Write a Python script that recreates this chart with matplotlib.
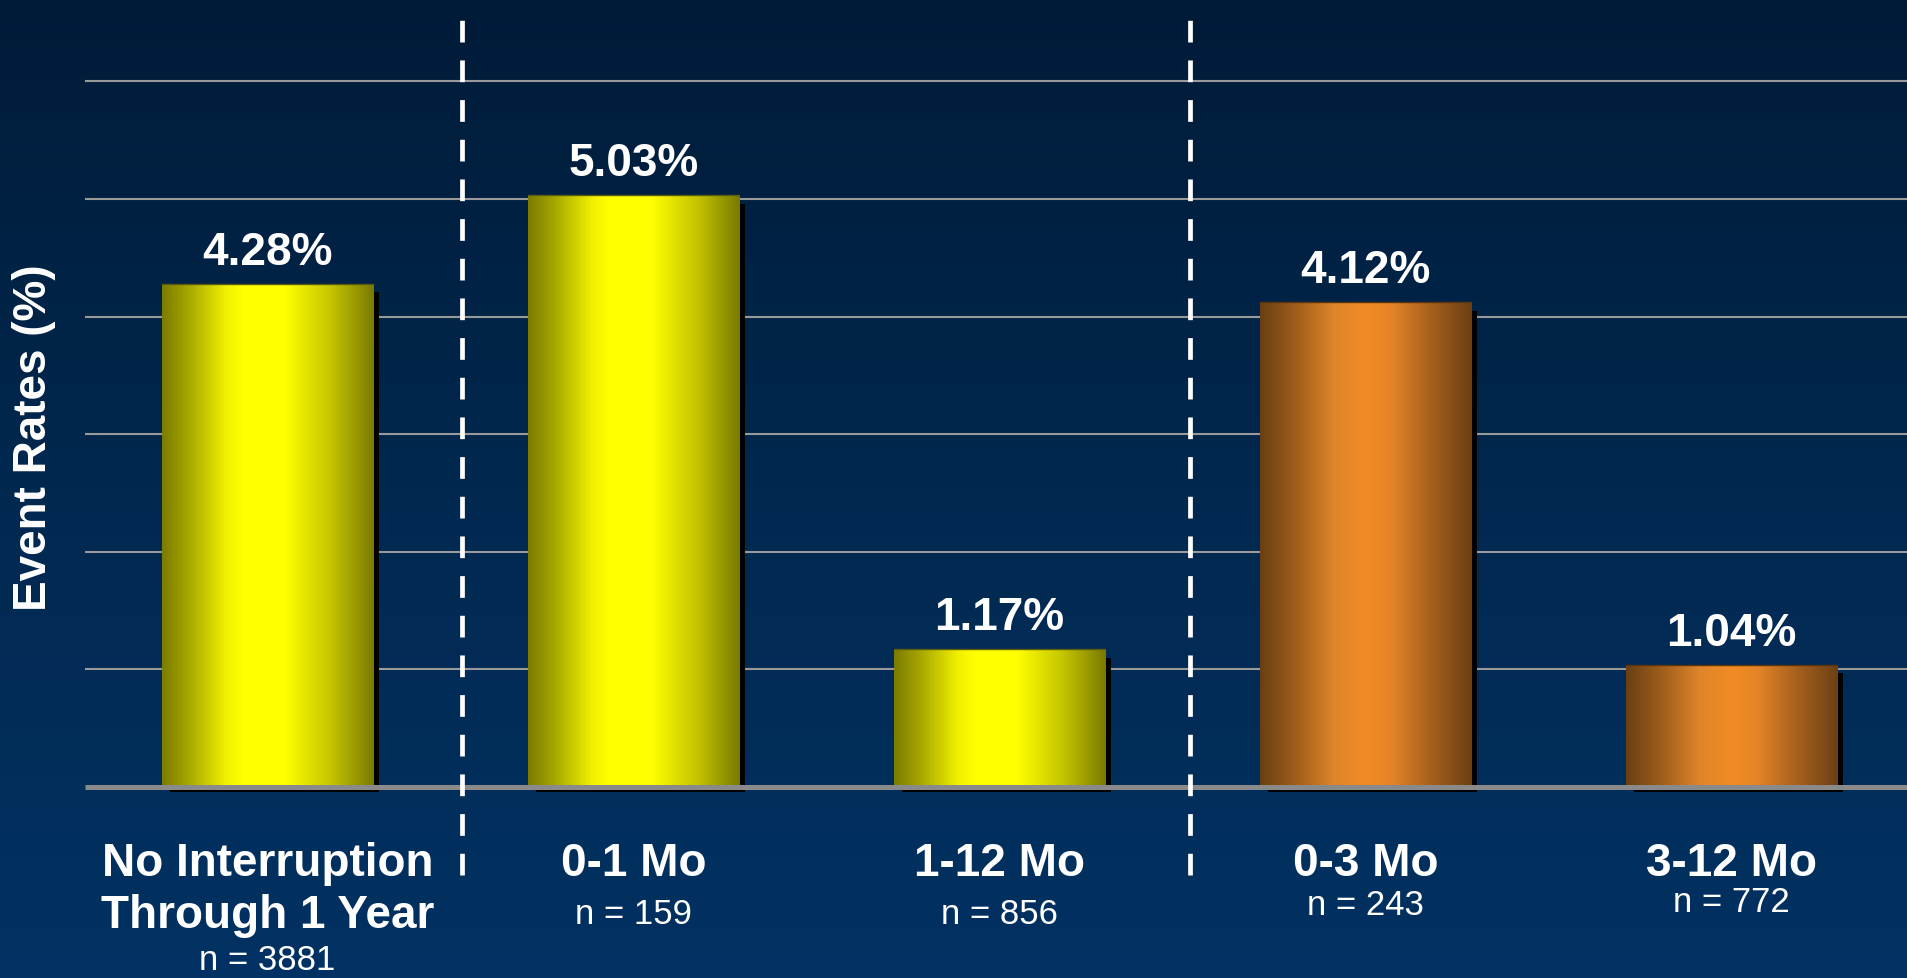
import numpy as np
import matplotlib
matplotlib.use("Agg")
import matplotlib.pyplot as plt
from matplotlib.colors import LinearSegmentedColormap

plt.rcParams['font.family'] = ['Liberation Sans', 'DejaVu Sans']

# data
labels = ["No Interruption\nThrough 1 Year", "0-1 Mo", "1-12 Mo", "0-3 Mo", "3-12 Mo"]
n_counts = [3881, 159, 856, 243, 772]
event_rates = [4.28, 5.03, 1.17, 4.12, 1.04]
bar_groups = ["yellow", "yellow", "yellow", "orange", "orange"]
yticks = [1, 2, 3, 4, 5, 6]

# gradients across each bar (left -> right)
yellow_cmap = LinearSegmentedColormap.from_list(
    "yel", [(0.0, "#7c7c00"), (0.12, "#a5a500"), (0.3, "#f0f000"), (0.38, "#ffff00"),
            (0.58, "#ffff00"), (0.8, "#c4c400"), (1.0, "#7a7a00")])
orange_cmap = LinearSegmentedColormap.from_list(
    "org", [(0.0, "#6a3f14"), (0.18, "#a3601c"), (0.35, "#e0852a"), (0.5, "#f28b25"),
            (0.62, "#e58427"), (0.82, "#a25e1d"), (1.0, "#6c4014")])
cmaps = {"yellow": yellow_cmap, "orange": orange_cmap}
# background: dark navy at top, lighter blue at bottom
bg_cmap = LinearSegmentedColormap.from_list("bg", ["#001b38", "#01284f", "#013263"])

fig = plt.figure(figsize=(19.07, 9.79), dpi=100)
ax = fig.add_axes([0, 0, 1, 1])
xlim = (-0.731, 4.479)
ylim = (-1.624, 6.70)
ax.set_xlim(*xlim)
ax.set_ylim(*ylim)
ax.axis('off')

bg = (1 - np.linspace(0, 1, 256)).reshape(-1, 1)   # row 0 = bottom
ax.imshow(bg, extent=[xlim[0], xlim[1], ylim[0], ylim[1]], aspect='auto',
          cmap=bg_cmap, vmin=0, vmax=1, zorder=0, origin='lower')

x = np.arange(len(event_rates))
vals = np.array(event_rates)
width = 0.578

# gridlines
for t in yticks:
    ax.hlines(t, -0.5, xlim[1], color="#9a9a9a", lw=1.5, zorder=1)

# shadows
ax.bar(x + 0.018, vals - 0.07 + 0.04, bottom=-0.04, width=width - 0.007,
       color="black", zorder=2)

# bars with horizontal gradient
bars = ax.bar(x, vals, width=width, facecolor="none", edgecolor="none", zorder=3)
grad = np.linspace(0, 1, 256).reshape(1, -1)
for b, grp in zip(bars, bar_groups):
    x0, y0 = b.get_x(), b.get_y()
    im = ax.imshow(grad, extent=[x0, x0 + b.get_width(), y0, y0 + b.get_height()],
                   aspect='auto', cmap=cmaps[grp], zorder=3, origin='lower')
    im.set_clip_path(b)
    ax.plot([x0, x0 + b.get_width()], [y0 + b.get_height()] * 2,
            color="#5a5a10" if grp == "yellow" else "#5a3510", lw=1, zorder=4)

# baseline
ax.hlines(0, -0.5, xlim[1], color="#8a8a8a", lw=3.6, zorder=5)

# group separators
for sx in [0.53, 2.52]:
    ax.vlines(sx, -0.75, 6.6, color="white", lw=3.4, linestyles=(0, (4.6, 3.8)), zorder=6)

# value labels
for xi, v in zip(x, vals):
    ax.text(xi, v + 0.17, f"{v:.2f}%", ha='center', va='baseline', color='white',
            fontsize=33, fontweight='bold', zorder=7)

# category labels and n
n_y = [-1.55, -1.156, -1.156, -1.077, -1.054]
for xi, lab, n, ny in zip(x, labels, n_counts, n_y):
    for i, line in enumerate(lab.split("\n")):
        ax.text(xi, -0.748 - i * 0.442, line, ha='center', va='baseline', color='white',
                fontsize=33, fontweight='bold', zorder=7)
    ax.text(xi, ny, f"n = {n}", ha='center', va='baseline', color='white',
            fontsize=25, zorder=7)

ax.text(-0.638, 2.976, "Event Rates (%)", rotation=90, ha='center', va='center',
        color='white', fontsize=33, fontweight='bold', zorder=7)

fig.savefig("out.png", dpi=100)
